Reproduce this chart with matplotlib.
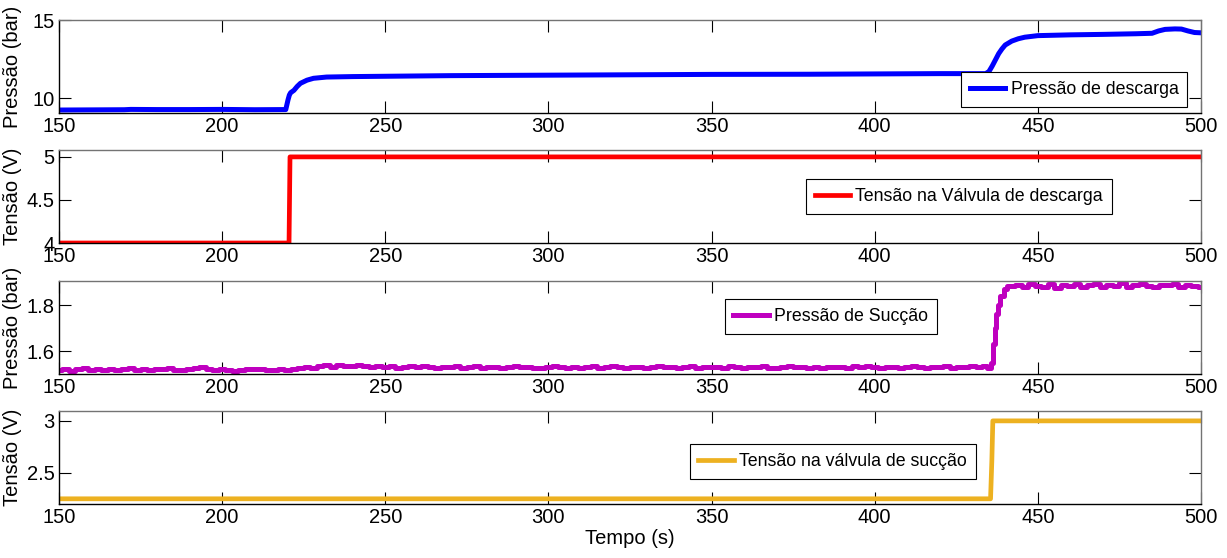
import matplotlib
matplotlib.use('Agg')

import matplotlib.pyplot as plt
import numpy as np

plt.rcParams['font.family'] = ['Liberation Sans', 'DejaVu Sans']
fs = 14.5      # ticks / axis labels
fs_leg = 12.8  # legend text

# --- data ---
# Pressao de descarga (bar)
t_desc = [150, 160, 170, 172, 180, 190, 200, 210, 219.5, 220.2, 220.6, 221, 222, 223, 224,
          226, 228, 232, 240, 250, 270, 300, 330, 350, 380, 400, 420, 434, 435, 436, 437,
          438, 439, 440, 442, 444, 446, 450, 460, 470, 480, 485, 487, 489, 492, 494, 496,
          498, 500]
p_desc = [9.24, 9.25, 9.26, 9.28, 9.27, 9.27, 9.28, 9.26, 9.27, 9.9, 10.2, 10.35, 10.5, 10.75,
          10.95, 11.15, 11.27, 11.35, 11.38, 11.4, 11.44, 11.47, 11.5, 11.52, 11.53, 11.55,
          11.57, 11.57, 11.7, 12.05, 12.45, 12.85, 13.15, 13.4, 13.65, 13.8, 13.9, 14.0, 14.05,
          14.08, 14.12, 14.15, 14.3, 14.4, 14.43, 14.42, 14.3, 14.2, 14.18]

# Tensao na valvula de descarga (V)
t_vdesc = [150, 220.5, 220.8, 500]
v_vdesc = [4.0, 4.0, 5.0, 5.0]

# Pressao de succao (bar)
t_suc_a = np.arange(150, 436, 2)
p_suc_a = [1.518, 1.522, 1.515, 1.520, 1.524, 1.517, 1.521, 1.519, 1.523, 1.516,
           1.520, 1.525, 1.518, 1.521, 1.517, 1.522, 1.520, 1.527, 1.519, 1.516,
           1.521, 1.524, 1.531, 1.520, 1.517, 1.522, 1.519, 1.515, 1.518, 1.521,
           1.520, 1.523, 1.519, 1.517, 1.521, 1.518, 1.520, 1.528, 1.531, 1.527,
           1.534, 1.538, 1.532, 1.540, 1.536, 1.533, 1.539, 1.535, 1.531, 1.537,
           1.530, 1.534, 1.528, 1.532, 1.535, 1.529, 1.533, 1.530, 1.527, 1.532,
           1.529, 1.533, 1.527, 1.531, 1.535, 1.528, 1.532, 1.529, 1.526, 1.531,
           1.534, 1.529, 1.532, 1.528, 1.526, 1.531, 1.533, 1.529, 1.527, 1.532,
           1.528, 1.531, 1.534, 1.527, 1.530, 1.533, 1.529, 1.526, 1.532, 1.530,
           1.527, 1.531, 1.535, 1.529, 1.532, 1.528, 1.530, 1.533, 1.527, 1.531,
           1.529, 1.532, 1.528, 1.534, 1.530, 1.527, 1.531, 1.529, 1.533, 1.528,
           1.526, 1.531, 1.534, 1.529, 1.532, 1.527, 1.530, 1.528, 1.532, 1.529,
           1.531, 1.527, 1.533, 1.529, 1.535, 1.530, 1.528, 1.532, 1.529, 1.526,
           1.531, 1.534, 1.530, 1.527, 1.532, 1.529, 1.533, 1.528, 1.531, 1.530,
           1.534, 1.529, 1.536]
t_suc_b = [435, 436, 436.5, 437, 437.5, 438, 439, 440, 441]
p_suc_b = [1.527, 1.55, 1.63, 1.70, 1.76, 1.80, 1.84, 1.87, 1.885]
t_suc_c = np.arange(442, 501, 2)
p_suc_c = [1.882, 1.889, 1.878, 1.893, 1.885, 1.880, 1.891, 1.876, 1.887, 1.883,
           1.890, 1.879, 1.886, 1.892, 1.881, 1.888, 1.884, 1.895, 1.880, 1.887,
           1.891, 1.883, 1.878, 1.889, 1.886, 1.893, 1.881, 1.887, 1.884, 1.878]

# Tensao na valvula de succao (V)
t_vsuc = [150, 435.5, 435.9, 436.2, 500]
v_vsuc = [2.25, 2.25, 2.62, 3.0, 3.0]

xticks = [150, 200, 250, 300, 350, 400, 450, 500]

fig = plt.figure(figsize=(12.27, 5.58), dpi=100)
W, H = 1227.0, 558.0
left, right = 59, 1201
tops = [20, 150, 281, 411]
ph = 93

axs = []
for top in tops:
    axs.append(fig.add_axes([left / W, 1 - (top + ph) / H, (right - left) / W, ph / H]))

t_suc = list(t_suc_a) + t_suc_b + list(t_suc_c)
p_suc = list(p_suc_a) + p_suc_b + list(p_suc_c)

axs[0].plot(t_desc, p_desc, color='#0000FF', lw=3.6, label='Pressão de descarga')
axs[1].plot(t_vdesc, v_vdesc, color='#FF0000', lw=3.4, label='Tensão na Válvula de descarga')
axs[2].plot(t_suc, p_suc, color='#BF00BF', lw=3.6, drawstyle='steps-mid', label='Pressão de Sucção')
axs[3].plot(t_vsuc, v_vsuc, color='#EDB120', lw=3.4, label='Tensão na válvula de sucção')

ylims = [(9.05, 15), (4, 5.08), (1.5, 1.905), (2.2, 3.095)]
yticks = [[10, 15], [4, 4.5, 5], [1.6, 1.8], [2.5, 3]]
yticklabels = [['10', '15'], ['4', '4.5', '5'], ['1.6', '1.8'], ['2.5', '3']]
ylabels = ['Pressão (bar)', 'Tensão (V)', 'Pressão (bar)', 'Tensão (V)']
leg_anchor = [(0.988, 0.065), (0.922, 0.312), (0.769, 0.43), (0.803, 0.272)]

for ax, yl, yt, ytl, lab, anc in zip(axs, ylims, yticks, yticklabels, ylabels, leg_anchor):
    ax.set_xlim(150, 500)
    ax.set_ylim(*yl)
    ax.set_xticks(xticks)
    ax.set_yticks(yt)
    ax.set_yticklabels(ytl)
    ax.tick_params(direction='in', top=True, right=True, length=8.5, width=0.8,
                   labelsize=fs, pad=3, colors='black')
    for s in ['left', 'bottom']:
        ax.spines[s].set_color('black')
        ax.spines[s].set_linewidth(1.0)
    for s in ['top', 'right']:
        ax.spines[s].set_color('0.45')
        ax.spines[s].set_linewidth(1.0)
    ax.set_ylabel(lab, fontsize=fs)
    ax.yaxis.set_label_coords(-0.032, 0.5)
    leg = ax.legend(loc='lower right', bbox_to_anchor=anc, fontsize=fs_leg, fancybox=False,
                    framealpha=1, edgecolor='black', borderpad=0.5, handlelength=2.0,
                    handletextpad=0.3, borderaxespad=0)
    leg.get_frame().set_linewidth(0.8)

axs[3].set_xlabel('Tempo (s)', fontsize=fs, labelpad=1)

fig.savefig('out.png', dpi=100)
